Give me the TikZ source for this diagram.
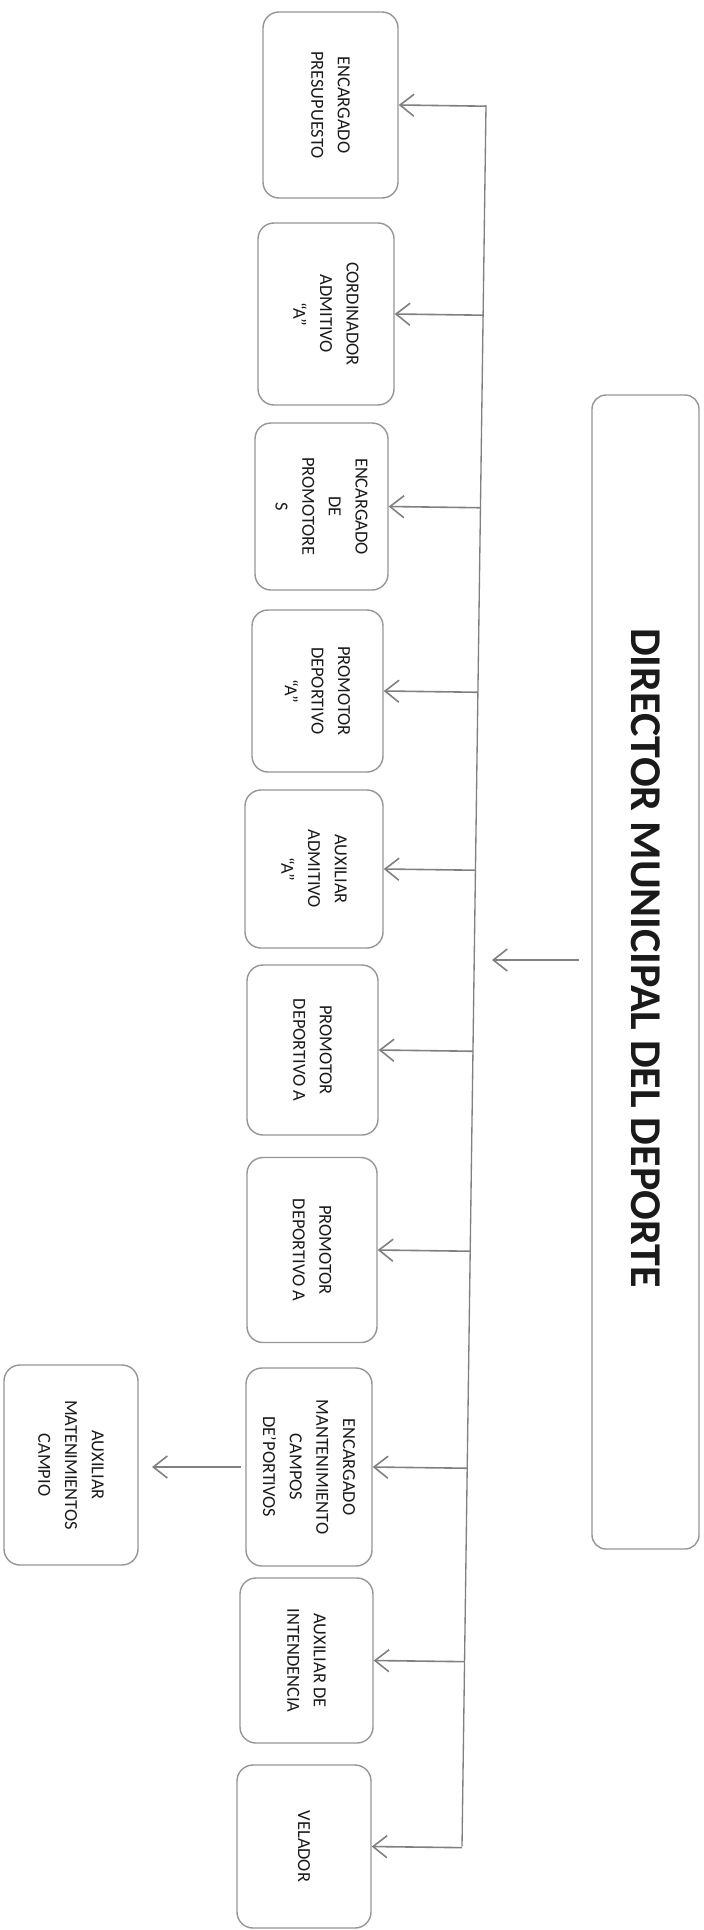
\documentclass[tikz,border=0pt]{standalone}
\usepackage{fontspec}
\setmainfont{Carlito}
\usetikzlibrary{arrows.meta,calc}
\newdimen\upx \upx=0.75pt
\definecolor{boxgray}{HTML}{959595}
\definecolor{linegray}{HTML}{808080}
\definecolor{ink}{HTML}{1A1A1A}
\tikzset{
  box/.style={draw=boxgray, line width=1.4\upx, rounded corners=16\upx, rotate=-90,
    align=center, inner sep=0pt, text=ink, font=\fontsize{13.8}{20}\selectfont},
  dirbox/.style={draw=boxgray, line width=1.4\upx, rounded corners=14\upx, rotate=-90,
    align=center, inner sep=0pt, text=ink, font=\fontsize{33}{38}\selectfont\bfseries},
  conn/.style={draw=linegray, line width=1.2pt, -{Straight Barb[length=10.5pt,width=16.5pt,line width=1.2pt]}},
  busline/.style={draw=linegray, line width=1pt},
}
\begin{document}
\begin{tikzpicture}[x=0.75pt,y=-0.75pt]
\useasboundingbox (0,0) rectangle (703,1930);
% director
\node[dirbox, minimum width=1154\upx, minimum height=107\upx] (dir) at (645.5,972) {DIRECTOR MUNICIPAL DEL DEPORTE\hspace*{28\upx}};
% subordinate boxes
\node[box, minimum width=186\upx, minimum height=135\upx] (b1) at (330.5,105) {ENCARGADO\\PRESUPUESTO};
\node[box, minimum width=182\upx, minimum height=136\upx] (b2) at (326,314) {CORDINADOR\\ADMITIVO\\“A”};
\node[box, minimum width=167\upx, minimum height=133\upx] (b3) at (321.5,506.5) {ENCARGADO\\DE\\PROMOTORE\\S};
\node[box, minimum width=162\upx, minimum height=131\upx] (b4) at (317.5,691) {PROMOTOR\\DEPORTIVO\\“A”};
\node[box, minimum width=158\upx, minimum height=138\upx] (b5) at (314,869) {AUXILIAR\\ADMITIVO\\“A”};
\node[box, minimum width=170\upx, minimum height=131\upx] (b6) at (312.5,1050) {PROMOTOR\\DEPORTIVO A};
\node[box, minimum width=185\upx, minimum height=130\upx] (b7) at (312,1250) {PROMOTOR\\DEPORTIVO A};
\node[box, minimum width=198\upx, minimum height=126\upx] (b8) at (309,1467) {ENCARGADO\\MANTENIMIENTO\\CAMPOS\\DE’PORTIVOS};
\node[box, minimum width=165\upx, minimum height=133\upx] (b9) at (306.5,1660.5) {AUXILIAR DE\\INTENDENCIA};
\node[box, minimum width=163\upx, minimum height=134\upx] (b10) at (304,1846.5) {VELADOR};
\node[box, minimum width=200\upx, minimum height=134\upx] (aux) at (71,1465) {AUXILIAR\\MATENIMIENTOS\\CAMPIO};
% bus line
\coordinate (bt) at (486,105);
\coordinate (bb) at (462,1846.5);
\draw[busline] (bt) -- (bb);
% director arrow
\coordinate (da) at (579,960);
\coordinate (db) at (492,960);
\draw[conn] (da) -- (db);
% arrows to boxes
\foreach \b in {b1,b2,b3,b4,b5,b6,b7,b8,b9,b10}{
  \draw[conn] ($(bt)!(\b.north)!(bb)$) -- (\b.north);
}
\draw[conn, shorten <=3pt, shorten >=10pt] (b8.south) -- (b8.south -| aux.north);
\end{tikzpicture}
\end{document}
